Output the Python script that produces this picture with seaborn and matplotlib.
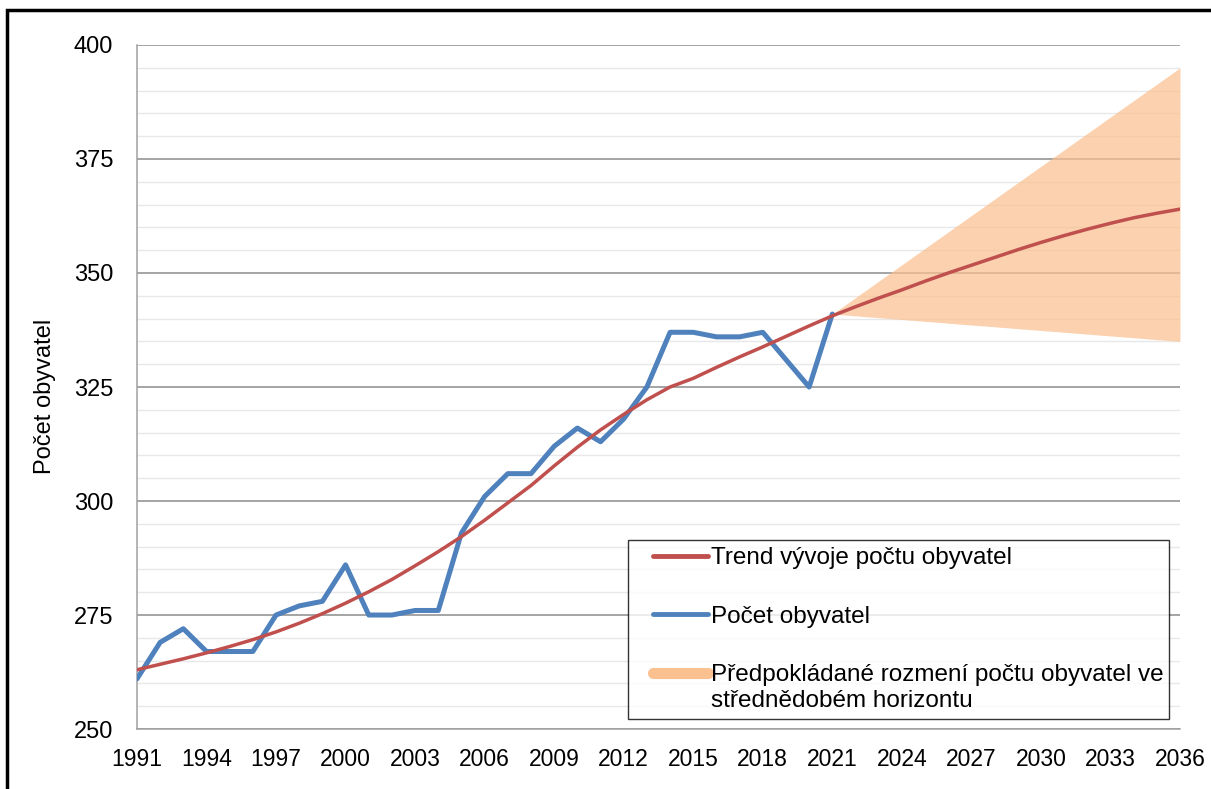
import matplotlib
matplotlib.use("Agg")
import numpy as np
import matplotlib.pyplot as plt
from matplotlib.lines import Line2D
from matplotlib.patches import Rectangle
from matplotlib.legend_handler import HandlerLine2D
import seaborn as sns
import pandas as pd

# population count (actual)
years = list(range(1991, 2022))
population = [261, 269, 272, 267, 267, 267, 275, 277, 278, 286,
              275, 275, 276, 276, 293, 301, 306, 306, 312, 316,
              313, 318, 325, 337, 337, 336, 336, 337, 331, 325, 341]

# trend line
trend_years = list(range(1991, 2037))
trend = [263.0, 264.2, 265.4, 266.7, 268.1, 269.6, 271.3, 273.2, 275.3, 277.6,
         280.1, 282.8, 285.8, 288.9, 292.2, 295.8, 299.6, 303.4, 307.7, 311.8,
         315.6, 319.0, 322.2, 325.0, 326.9, 329.3, 331.6, 333.8, 336.1, 338.4,
         340.6, 342.6, 344.5, 346.3, 348.2, 350.0, 351.7, 353.4, 355.1, 356.7,
         358.2, 359.6, 360.9, 362.1, 363.1, 364.0]

# projected range
band_years = [2021, 2036]
band_low = [341, 335]
band_high = [341, 395]

legend_labels = [
    "Trend vývoje počtu obyvatel",
    "Počet obyvatel",
    "Předpokládané rozmení počtu obyvatel ve\nstřednědobém horizontu",
]

trend_df = pd.DataFrame({"year": trend_years, "value": trend})
pop_df = pd.DataFrame({"year": years, "value": population})


class ShiftedLine(HandlerLine2D):
    # legend line trimmed on the left, optionally moved up to the first text line
    def __init__(self, trim=0.0, dy=0.0, **kw):
        super().__init__(**kw)
        self.trim = trim
        self.dy = dy

    def create_artists(self, legend, orig_handle, xdescent, ydescent, width,
                       height, fontsize, trans):
        arts = super().create_artists(legend, orig_handle, xdescent, ydescent,
                                      width, height, fontsize, trans)
        for a in arts:
            x = np.asarray(a.get_xdata(), float)
            y = np.asarray(a.get_ydata(), float)
            a.set_xdata(np.linspace(x.min() + self.trim * fontsize, x.max(), len(x)))
            a.set_ydata(y + self.dy * fontsize)
        return arts


sns.set_style("white")
plt.rcParams["font.family"] = ["Liberation Sans", "DejaVu Sans"]
plt.rcParams["text.color"] = "black"
plt.rcParams["axes.labelcolor"] = "black"
plt.rcParams["xtick.labelcolor"] = "black"
plt.rcParams["ytick.labelcolor"] = "black"

fig = plt.figure(figsize=(12.11, 7.89), dpi=100)
ax = fig.add_axes([0.1131, 0.0760, 0.8613, 0.867])

red = "#C0504D"
blue = "#4F81BD"
peach = "#FAC090"

ax.fill_between(band_years, band_low, band_high, color=peach, alpha=0.72,
                linewidth=0, zorder=1)
sns.lineplot(data=trend_df, x="year", y="value", ax=ax, color=red, lw=2.5, zorder=4)
sns.lineplot(data=pop_df, x="year", y="value", ax=ax, color=blue, lw=3.6, zorder=3)

ax.set_xlim(1991, 2036)
ax.set_ylim(250, 400)
ax.set_xticks(range(1991, 2037, 3))
ax.set_xticks(range(1991, 2037), minor=True)
ax.set_yticks(range(250, 401, 25))
ax.set_yticks(range(250, 401, 5), minor=True)

ax.grid(axis="y", which="minor", color="#E8E8E8", lw=1, zorder=0)
ax.grid(axis="y", which="major", color="#8C8C8C", lw=1.1, zorder=0)
ax.grid(axis="x", visible=False)
ax.set_axisbelow(True)

for s in ["top", "right"]:
    ax.spines[s].set_visible(False)
for s in ["left", "bottom"]:
    ax.spines[s].set_color("#A0A0A0")
    ax.spines[s].set_linewidth(1.1)

ax.tick_params(axis="both", which="major", direction="out",
               length=7, color="#A0A0A0", width=1)
ax.tick_params(axis="y", which="major", labelsize=17, pad=10)
ax.tick_params(axis="x", which="major", labelsize=16.5, pad=7)
ax.tick_params(axis="x", which="minor", direction="out", length=7,
               color="#A0A0A0", width=1)
ax.tick_params(axis="y", which="minor", length=0)

ax.set_xlabel("")
ax.set_ylabel("Počet obyvatel", fontsize=17)
ax.yaxis.set_label_coords(-0.078, 0.487)

handles = [
    Line2D([], [], color=red, lw=3.5),
    Line2D([], [], color=blue, lw=3.5),
    Line2D([], [], color=peach, lw=8, solid_capstyle="round"),
]
leg = ax.legend(handles, legend_labels, loc="upper left",
                bbox_to_anchor=(0.4708, 0.0146, 0.519, 0.2617), mode="expand",
                fontsize=17.5, frameon=True, fancybox=False, handlelength=3.0,
                handletextpad=0.1, labelspacing=1.5, borderpad=0.3,
                borderaxespad=0,
                handler_map={handles[0]: ShiftedLine(trim=0.72),
                             handles[1]: ShiftedLine(trim=0.72),
                             handles[2]: ShiftedLine(trim=0.72, dy=0.6)})
leg.get_frame().set_edgecolor("black")
leg.get_frame().set_linewidth(1.0)
leg.set_zorder(10)

# outer frame of the original figure
fig.patches.append(Rectangle((7 / 1211, -0.2), 1.2, 1.2 - 10 / 789,
                             transform=fig.transFigure, fill=False,
                             edgecolor="black", lw=2.5))

fig.savefig("out.png", dpi=100)
